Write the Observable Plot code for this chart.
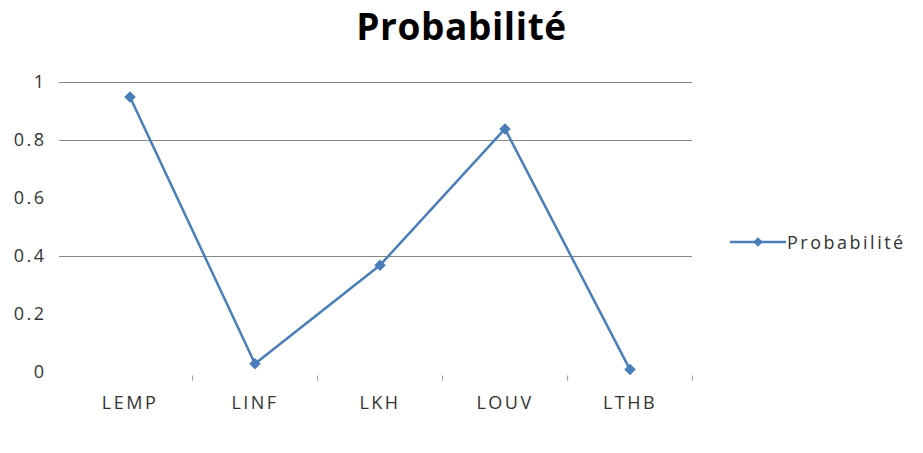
<!DOCTYPE html>
<html>
<head>
<meta charset="utf-8">
<script src="https://cdn.jsdelivr.net/npm/d3@7"></script>
<script src="https://cdn.jsdelivr.net/npm/@observablehq/plot@0.6"></script>
<style>
  html, body { margin: 0; padding: 0; background: #fff; }
  #wrap { position: relative; width: 923px; height: 453px; font-family: "Open Sans", sans-serif; }
  #title { height: 55px; box-sizing: border-box; padding-top: 0; text-align: center; font-size: 37px; line-height: 51px; font-weight: bold; letter-spacing: 0.6px; color: #000; white-space: nowrap; }
  #legend { position: absolute; left: 730px; top: 230px; display: flex; align-items: center; font-size: 18px; letter-spacing: 2.5px; color: #333; }
  #legend span { margin-left: 1px; }
  #chart text { letter-spacing: 2.5px; }
</style>
</head>
<body>
<div id="wrap">
  <div id="title">Probabilité</div>
  <div id="chart"></div>
  <div id="legend"></div>
</div>
<script>
const categories = ["LEMP", "LINF", "LKH", "LOUV", "LTHB"];
const values = [0.95, 0.03, 0.37, 0.84, 0.01];
const yTicks = [0, 0.2, 0.4, 0.6, 0.8, 1];
const gridLines = [1, 0.8, 0.4];
const seriesName = "Probabilité";
const lineColor = "#4a7ebb";

const data = categories.map((c, i) => ({category: c, value: values[i]}));

const width = 923, height = 398;
const marginLeft = 66, marginRight = 231;
const bandW = (width - marginLeft - marginRight) / categories.length;

const chart = Plot.plot({
  width, height,
  marginTop: 27, marginBottom: 81, marginLeft, marginRight,
  style: {fontFamily: "Open Sans, sans-serif", fontSize: "18px", color: "#333", background: "#fff", overflow: "visible"},
  x: {type: "band", domain: categories, padding: 0, label: null},
  y: {domain: [0, 1], label: null},
  marks: [
    Plot.ruleY(gridLines, {stroke: "#868686", strokeWidth: 1, strokeOpacity: 1, insetLeft: -7}),
    Plot.ruleX(categories, {x: d => d, dx: bandW / 2, y1: -0.012, y2: -0.03, stroke: "#999", strokeWidth: 1, clip: false}),
    Plot.axisY({ticks: yTicks, tickSize: 0, tickPadding: 20, tickFormat: d => String(d), fontSize: 18}),
    Plot.axisX({tickSize: 0, tickPadding: 24, fontSize: 18}),
    Plot.line(data, {x: "category", y: "value", stroke: lineColor, strokeWidth: 2.5}),
    Plot.dot(data, {x: "category", y: "value", symbol: "square", rotate: 45, r: 4.6, fill: lineColor, stroke: "none"})
  ]
});
document.getElementById("chart").appendChild(chart);

// legend
const lg = d3.select("#legend");
const ls = lg.append("svg").attr("width", 56).attr("height", 14);
ls.append("line").attr("x1", 0).attr("x2", 56).attr("y1", 7).attr("y2", 7).attr("stroke", lineColor).attr("stroke-width", 2.5);
ls.append("path").attr("d", d3.symbol(d3.symbolSquare, 45)()).attr("transform", "translate(28,7) rotate(45)").attr("fill", lineColor);
lg.append("span").text(seriesName);
</script>
</body>
</html>
